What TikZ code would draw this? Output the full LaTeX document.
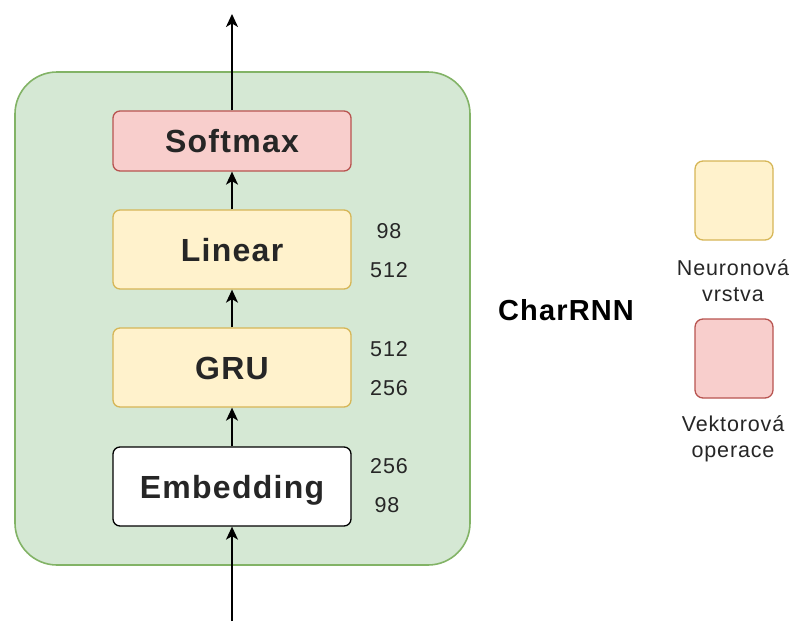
\documentclass[tikz,border=0pt]{standalone}
\usepackage{fontspec}
\setmainfont{Liberation Sans}[LetterSpace=4]
\usetikzlibrary{arrows.meta}

\definecolor{grpfill}{HTML}{D5E8D4}
\definecolor{grpdraw}{HTML}{82B366}
\definecolor{layfill}{HTML}{FFF2CC}
\definecolor{laydraw}{HTML}{D6B656}
\definecolor{opfill}{HTML}{F8CECC}
\definecolor{opdraw}{HTML}{B85450}
\definecolor{txt}{HTML}{262626}

\tikzset{
  block/.style={draw, rounded corners=7pt, line width=1.3pt, minimum width=238pt,
    text=txt, font=\fontsize{32}{36}\selectfont\bfseries, inner sep=0pt,
    text height=23pt, text depth=0pt},
  layer/.style={block, fill=layfill, draw=laydraw, minimum height=79pt},
  vecop/.style={block, fill=opfill, draw=opdraw, minimum height=60pt},
  plainblock/.style={block, fill=white, draw=black, minimum height=79pt},
  dimlabel/.style={text=txt, font=\fontsize{21.5}{24}\selectfont, inner sep=0pt},
  legendbox/.style={draw, rounded corners=8pt, line width=1.3pt, minimum width=78pt,
    minimum height=79pt, inner sep=0pt},
  legendtext/.style={text=txt, font=\fontsize{21.5}{26}\selectfont, align=center, inner sep=0pt},
  flow/.style={draw=black, line width=1.6pt, -{Stealth[length=13pt,width=12pt,inset=3.5pt]}}
}

\begin{document}
\begin{tikzpicture}[x=1pt, y=-1pt]
  \useasboundingbox (0,0) rectangle (794,621);

  % model container
  \node[draw=grpdraw, fill=grpfill, line width=1.6pt, rounded corners=42pt,
        minimum width=455pt, minimum height=493pt, inner sep=0pt] (model) at (242.5,318.5) {};

  % layers
  \node[vecop]      (softmax) at (232,141)   {Softmax};
  \node[layer]      (linear)  at (232,249.5) {Linear};
  \node[layer]      (gru)     at (232,367.5) {GRU};
  \node[plainblock] (embed)   at (232,486.5) {Embedding};

  % layer dimensions
  \node[dimlabel] (linout) at (389,231) {98};
  \node[dimlabel] (linin)  at (389,270) {512};
  \node[dimlabel] (gruout) at (389,349) {512};
  \node[dimlabel] (gruin)  at (389,388) {256};
  \node[dimlabel] (embout) at (389,466) {256};
  \node[dimlabel] (embin)  at (387,505) {98};

  % data flow
  \coordinate (input)  at (232,621);
  \coordinate (output) at (232,14);
  \draw[flow] (input) -- (embed.south);
  \draw[flow] (embed.north) -- (gru.south);
  \draw[flow] (gru.north) -- (linear.south);
  \draw[flow] (linear.north) -- (softmax.south);
  \draw[flow] (softmax.north) -- (output);

  % title
  \node[text=black, font=\fontsize{29}{32}\selectfont\bfseries, inner sep=0pt] (title) at (566,310) {CharRNN};

  % legend
  \node[legendbox, fill=layfill, draw=laydraw] (leglayer) at (734,200.5) {};
  \node[legendtext] (leglayertxt) at (733,281) {Neuronová\\vrstva};
  \node[legendbox, fill=opfill, draw=opdraw] (legop) at (734,358.5) {};
  \node[legendtext] (legoptxt) at (733,438.5) {Vektorová\\operace};
\end{tikzpicture}
\end{document}
